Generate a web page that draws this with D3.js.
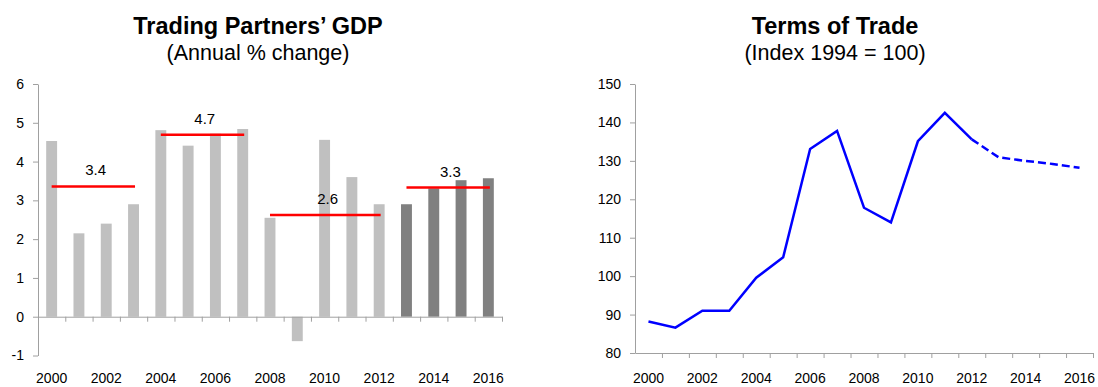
<!DOCTYPE html>
<html>
<head>
<meta charset="utf-8">
<title>Trading Partners' GDP and Terms of Trade</title>
<script src="https://d3js.org/d3.v7.min.js"></script>
<style>
  body { margin: 0; background: #fff; }
  svg { display: block; font-family: "Liberation Sans", Arial, sans-serif; }
</style>
</head>
<body>
<div id="chart"></div>
<script>
// ---- data ----
var years = d3.range(2000, 2017);
var gdpGrowth = [4.53, 2.15, 2.40, 2.90, 4.81, 4.41, 4.72, 4.84, 2.55, -0.63,
                 4.56, 3.60, 2.90, 2.90, 3.31, 3.52, 3.57];
var gdpForecastFrom = 2013;
var periodStart = [2000, 2004, 2008, 2013];
var periodEnd = [2003, 2007, 2012, 2016];
var periodAvg = [3.36, 4.69, 2.62, 3.33];
var gdpTicks = [-1, 0, 1, 2, 3, 4, 5, 6];

var totIndex = [88.2, 86.6, 91.0, 91.0, 99.6, 104.9, 133.1, 137.8, 117.8, 114.0,
                135.1, 142.5, 135.6, 130.9, 130.0, 129.2, 128.2];
var totForecastFrom = 2012;
var totTicks = [80, 90, 100, 110, 120, 130, 140, 150];

var yearLabels = years.filter(function(d) { return d % 2 === 0; });

// ---- layout ----
var W = 1098, H = 387;
var axisColor = "#a0a0a0";

var svg = d3.select("#chart").append("svg")
    .attr("width", W)
    .attr("height", H);

function titles(cx, title, sub) {
    svg.append("text")
        .attr("x", cx).attr("y", 34)
        .attr("text-anchor", "middle")
        .style("font-size", "23.5px").style("font-weight", "bold")
        .text(title);
    svg.append("text")
        .attr("x", cx).attr("y", 60)
        .attr("text-anchor", "middle")
        .style("font-size", "21.5px")
        .text(sub);
}

// draws y axis, x baseline with ticks between categories and year labels
function frame(x, y, yTicks, baseValue, labelY) {
    var r = x.range();
    svg.append("g")
        .attr("transform", "translate(" + r[0] + ",0)")
        .call(d3.axisLeft(y).tickValues(yTicks).tickFormat(function(d) { return String(d); })
            .tickSize(5).tickSizeOuter(0).tickPadding(9))
        .call(function(g) {
            g.selectAll("path, line").attr("stroke", axisColor);
            g.selectAll("text").attr("fill", "#000").style("font-size", "14px")
                .style("font-family", "Liberation Sans, Arial, sans-serif");
        });

    var edges = d3.scaleLinear().domain([0, years.length]).range(r);
    svg.append("g")
        .attr("transform", "translate(0," + y(baseValue) + ")")
        .call(d3.axisBottom(edges).tickValues(d3.range(1, years.length + 1))
            .tickSize(5).tickSizeOuter(0).tickFormat(""))
        .call(function(g) {
            g.selectAll("path, line").attr("stroke", axisColor);
        });

    svg.append("g").selectAll("text")
        .data(yearLabels)
        .join("text")
        .attr("x", function(d) { return x(d) + x.bandwidth() / 2; })
        .attr("y", labelY)
        .attr("text-anchor", "middle")
        .style("font-size", "14px")
        .text(function(d) { return d; });
}

// ---- left: Trading Partners' GDP ----
var x1 = d3.scaleBand().domain(years).range([38, 502]);
var y1 = d3.scaleLinear().domain([-1, 6]).range([355.5, 84]);
var barW = x1.bandwidth() * 0.4;

titles(258, "Trading Partners\u2019 GDP", "(Annual % change)");

svg.append("g").selectAll("rect")
    .data(years.map(function(yr, i) { return { year: yr, v: gdpGrowth[i] }; }))
    .join("rect")
    .attr("x", function(d) { return x1(d.year) + (x1.bandwidth() - barW) / 2; })
    .attr("width", barW)
    .attr("y", function(d) { return y1(Math.max(0, d.v)); })
    .attr("height", function(d) { return Math.abs(y1(d.v) - y1(0)); })
    .attr("fill", function(d) { return d.year >= gdpForecastFrom ? "#808080" : "#c0c0c0"; });

frame(x1, y1, gdpTicks, 0, 383);

var periods = periodAvg.map(function(v, i) {
    return { a: periodStart[i], b: periodEnd[i], v: v };
});
var cx1 = function(yr) { return x1(yr) + x1.bandwidth() / 2; };

svg.append("g").selectAll("line")
    .data(periods)
    .join("line")
    .attr("x1", function(d) { return cx1(d.a); })
    .attr("x2", function(d) { return cx1(d.b) + 1.5; })
    .attr("y1", function(d) { return y1(d.v); })
    .attr("y2", function(d) { return y1(d.v); })
    .attr("stroke", "#ff0000")
    .attr("stroke-width", 2.5);

svg.append("g").selectAll("text")
    .data(periods)
    .join("text")
    .attr("x", function(d) { return (cx1(d.a) + cx1(d.b)) / 2 + 3; })
    .attr("y", function(d) { return y1(d.v) - 11; })
    .attr("text-anchor", "middle")
    .style("font-size", "15px")
    .text(function(d) { return d3.format(".1f")(d.v); });

// ---- right: Terms of Trade ----
var x2 = d3.scaleBand().domain(years).range([635, 1093]);
var y2 = d3.scaleLinear().domain([80, 150]).range([353, 84]);

titles(835, "Terms of Trade", "(Index 1994 = 100)");
frame(x2, y2, totTicks, 80, 383);

var tot = years.map(function(yr, i) { return { year: yr, v: totIndex[i] }; });
var line2 = d3.line()
    .x(function(d) { return x2(d.year) + x2.bandwidth() / 2; })
    .y(function(d) { return y2(d.v); });

svg.append("path")
    .datum(tot.filter(function(d) { return d.year <= totForecastFrom; }))
    .attr("d", line2)
    .attr("fill", "none")
    .attr("stroke", "#0000ff")
    .attr("stroke-width", 2.5)
    .attr("stroke-linejoin", "miter");

svg.append("path")
    .datum(tot.filter(function(d) { return d.year >= totForecastFrom; }))
    .attr("d", line2)
    .attr("fill", "none")
    .attr("stroke", "#0000ff")
    .attr("stroke-width", 2.5)
    .attr("stroke-dasharray", "8,4");
</script>
</body>
</html>
